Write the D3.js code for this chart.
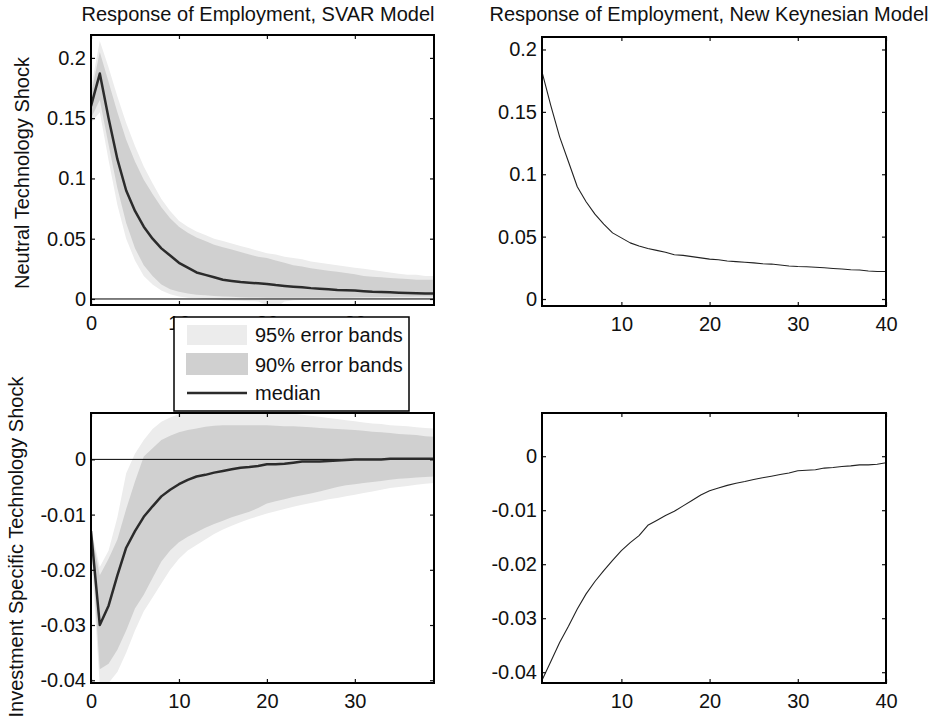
<!DOCTYPE html>
<html lang="en">
<head>
<meta charset="utf-8">
<title>Response of Employment: SVAR vs New Keynesian</title>
<style>
  body { margin: 0; background: #fff; }
  svg text { font-family: "Liberation Sans", Arial, Helvetica, sans-serif; fill: #111; }
  .tick line { stroke: #111; stroke-width: 1.2px; }
  .domain { display: none; }
</style>
</head>
<body>
<svg width="933" height="722"></svg>
<script src="https://cdn.jsdelivr.net/npm/d3@7"></script>
<script>

// ---- data ----
var horizonSVAR = d3.range(0, 40);   // periods 0..39
var horizonNK = d3.range(1, 41);     // periods 1..40

var neutralMedian = [0.160, 0.187, 0.150, 0.116, 0.090, 0.073, 0.060, 0.050, 0.042, 0.036,
  0.030, 0.026, 0.022, 0.020, 0.018, 0.016, 0.015, 0.014, 0.0135, 0.013,
  0.0125, 0.0115, 0.0108, 0.0102, 0.0097, 0.009, 0.0085, 0.008, 0.0075, 0.0072,
  0.007, 0.0065, 0.006, 0.0057, 0.0055, 0.0052, 0.005, 0.0047, 0.0045, 0.0045];
var neutralHi90 = [0.170, 0.205, 0.180, 0.155, 0.132, 0.114, 0.099, 0.087, 0.076, 0.067,
  0.060, 0.055, 0.051, 0.048, 0.045, 0.043, 0.041, 0.039, 0.037, 0.035,
  0.034, 0.032, 0.030, 0.028, 0.027, 0.0255, 0.0245, 0.0235, 0.0225, 0.0215,
  0.0205, 0.019, 0.0185, 0.018, 0.0175, 0.017, 0.0165, 0.016, 0.016, 0.016];
var neutralLo90 = [0.150, 0.165, 0.128, 0.092, 0.063, 0.042, 0.028, 0.019, 0.012, 0.008,
  0.006, 0.0045, 0.0035, 0.003, 0.0025, 0.002, 0.0018, 0.0015, 0.0013, 0.0012,
  0.001, 0.001, 0.001, 0.001, 0.001, 0.001, 0.001, 0.001, 0.001, 0.001,
  0.0012, 0.0014, 0.0015, 0.0016, 0.0017, 0.0018, 0.0019, 0.002, 0.002, 0.002];
var neutralHi95 = [0.175, 0.214, 0.192, 0.168, 0.146, 0.127, 0.110, 0.096, 0.083, 0.073,
  0.065, 0.060, 0.056, 0.053, 0.050, 0.048, 0.046, 0.044, 0.042, 0.040,
  0.038, 0.037, 0.035, 0.034, 0.033, 0.031, 0.030, 0.029, 0.028, 0.027,
  0.026, 0.025, 0.024, 0.023, 0.022, 0.021, 0.020, 0.020, 0.019, 0.019];
var neutralLo95 = [0.146, 0.155, 0.115, 0.078, 0.050, 0.032, 0.019, 0.012, 0.007, 0.004,
  0.002, 0.001, 0.0005, 0.0, -0.0005, -0.001, -0.0012, -0.0015, -0.0018, -0.002,
  -0.005, -0.0075, -0.002, -0.001, -0.0008, -0.0006, -0.0005, -0.0004, -0.0003, -0.0002,
  -0.0001, 0, 0, 0, 0, 0, 0, 0, 0, 0];

var investMedian = [-0.013, -0.030, -0.0265, -0.021, -0.016, -0.013, -0.0104, -0.0085, -0.0067, -0.0055,
  -0.0045, -0.0037, -0.0031, -0.0028, -0.0024, -0.0021, -0.0018, -0.0015, -0.0014, -0.0012,
  -0.0009, -0.0009, -0.0008, -0.0006, -0.0004, -0.0004, -0.0004, -0.0003, -0.0002, -0.0001,
  0, 0, 0, 0, 0.0001, 0.0001, 0.0001, 0.0001, 0.0001, 0.0001];
var investHi90 = [-0.013, -0.021, -0.018, -0.0145, -0.009, -0.004, 0.0005, 0.002, 0.0035, 0.0043,
  0.0049, 0.0053, 0.0056, 0.0059, 0.0061, 0.0062, 0.0062, 0.0062, 0.0062, 0.0062,
  0.0062, 0.0061, 0.006, 0.006, 0.0059, 0.0058, 0.0057, 0.0056, 0.0055, 0.0054,
  0.0053, 0.0052, 0.005, 0.0049, 0.0048, 0.0046, 0.0045, 0.0044, 0.0042, 0.0041];
var investLo90 = [-0.014, -0.038, -0.037, -0.0345, -0.031, -0.027, -0.0245, -0.0215, -0.0185, -0.0165,
  -0.015, -0.014, -0.0132, -0.0124, -0.0117, -0.0111, -0.0105, -0.01, -0.0095, -0.0088,
  -0.008, -0.0076, -0.0072, -0.0068, -0.0065, -0.0062, -0.0058, -0.0054, -0.005, -0.0047,
  -0.0045, -0.0043, -0.0041, -0.0039, -0.0037, -0.0035, -0.0034, -0.0033, -0.0032, -0.0031];
var investHi95 = [-0.0125, -0.0195, -0.0165, -0.0105, -0.0025, 0.001, 0.0035, 0.0055, 0.0068, 0.0076,
  0.0082, 0.0085, 0.0088, 0.009, 0.009, 0.009, 0.009, 0.009, 0.009, 0.009,
  0.0088, 0.0087, 0.0085, 0.0083, 0.0081, 0.0079, 0.0077, 0.0075, 0.0073, 0.0071,
  0.0069, 0.0067, 0.0065, 0.0064, 0.0062, 0.0061, 0.006, 0.0058, 0.0057, 0.0056];
var investLo95 = [-0.0165, -0.041, -0.0405, -0.0385, -0.035, -0.031, -0.0275, -0.025, -0.0225, -0.020,
  -0.018, -0.0165, -0.0155, -0.0145, -0.0135, -0.0127, -0.012, -0.0114, -0.0108, -0.0103,
  -0.0098, -0.0094, -0.009, -0.0086, -0.0082, -0.0079, -0.0076, -0.0072, -0.007, -0.0067,
  -0.0064, -0.0061, -0.0058, -0.0055, -0.0052, -0.005, -0.0048, -0.0046, -0.0044, -0.0043];

var nkNeutral = [0.182, 0.155, 0.130, 0.110, 0.090, 0.078, 0.068, 0.060, 0.053, 0.049,
  0.045, 0.0425, 0.0405, 0.039, 0.0375, 0.0355, 0.035, 0.034, 0.033, 0.032,
  0.0315, 0.0305, 0.030, 0.0295, 0.029, 0.0283, 0.028, 0.0272, 0.0265, 0.026,
  0.0258, 0.0255, 0.025, 0.0245, 0.024, 0.0235, 0.0232, 0.0225, 0.022, 0.022];
var nkInvest = [-0.0415, -0.038, -0.0345, -0.0315, -0.0283, -0.0255, -0.0232, -0.0212, -0.0193, -0.0175,
  -0.016, -0.0147, -0.0128, -0.0119, -0.011, -0.0102, -0.0092, -0.0082, -0.0072, -0.0064,
  -0.0059, -0.0054, -0.005, -0.0047, -0.0043, -0.004, -0.0037, -0.0034, -0.0031, -0.0027,
  -0.0026, -0.0025, -0.0022, -0.0021, -0.0019, -0.0018, -0.0016, -0.0016, -0.0015, -0.0012];

var titles = ["Response of Employment, SVAR Model", "Response of Employment, New Keynesian Model"];
var rowLabels = ["Neutral Technology Shock", "Investment Specific Technology Shock"];
var legendLabels = ["95% error bands", "90% error bands", "median"];
var neutralTicks = [0, 0.05, 0.1, 0.15, 0.2];
var investTicks = [-0.04, -0.03, -0.02, -0.01, 0];
var svarXTicks = [0, 10, 20, 30];
var nkXTicks = [10, 20, 30, 40];

// ---- layout ----
var svg = d3.select("svg");
var FS = 20;
var c95 = "#ececec", c90 = "#d0d0d0", cMed = "#2b2b2b";

function rows(x, arrs) {
  return x.map(function(d, i) {
    var r = { x: d };
    for (var k in arrs) r[k] = arrs[k][i];
    return r;
  });
}

var panels = [
  { id: "p1", left: 91, right: 434, top: 35, bottom: 305, xDom: [0, 39], yDom: [-0.005, 0.219],
    xTicks: svarXTicks, yTicks: neutralTicks, zero: true,
    data: rows(horizonSVAR, { m: neutralMedian, lo90: neutralLo90, hi90: neutralHi90, lo95: neutralLo95, hi95: neutralHi95 }) },
  { id: "p2", left: 542, right: 886, top: 37, bottom: 306, xDom: [1, 40], yDom: [-0.0056, 0.21],
    xTicks: nkXTicks, yTicks: neutralTicks, zero: false,
    data: rows(horizonNK, { m: nkNeutral }) },
  { id: "p3", left: 91, right: 434, top: 413, bottom: 683, xDom: [0, 39], yDom: [-0.0405, 0.0084],
    xTicks: svarXTicks, yTicks: investTicks, zero: true,
    data: rows(horizonSVAR, { m: investMedian, lo90: investLo90, hi90: investHi90, lo95: investLo95, hi95: investHi95 }) },
  { id: "p4", left: 542, right: 886, top: 413, bottom: 683, xDom: [1, 40], yDom: [-0.042, 0.008],
    xTicks: nkXTicks, yTicks: investTicks, zero: false,
    data: rows(horizonNK, { m: nkInvest }) }
];

var defs = svg.append("defs");

panels.forEach(function(p) {
  var x = d3.scaleLinear().domain(p.xDom).range([p.left, p.right]);
  var y = d3.scaleLinear().domain(p.yDom).range([p.bottom, p.top]);
  var w = p.right - p.left, h = p.bottom - p.top;

  defs.append("clipPath").attr("id", "clip-" + p.id)
    .append("rect").attr("x", p.left).attr("y", p.top).attr("width", w).attr("height", h);

  var g = svg.append("g");
  var plot = g.append("g").attr("clip-path", "url(#clip-" + p.id + ")");

  var isSvar = p.data[0].hi95 !== undefined;
  if (isSvar) {
    plot.append("path").datum(p.data)
      .attr("fill", c95)
      .attr("d", d3.area().x(function(d) { return x(d.x); })
        .y0(function(d) { return y(d.lo95); }).y1(function(d) { return y(d.hi95); }));
    plot.append("path").datum(p.data)
      .attr("fill", c90)
      .attr("d", d3.area().x(function(d) { return x(d.x); })
        .y0(function(d) { return y(d.lo90); }).y1(function(d) { return y(d.hi90); }));
  }

  if (p.zero) {
    plot.append("line")
      .attr("x1", p.left).attr("x2", p.right)
      .attr("y1", y(0)).attr("y2", y(0))
      .attr("stroke", "#000").attr("stroke-width", 1);
  }

  plot.append("path").datum(p.data)
    .attr("fill", "none")
    .attr("stroke", isSvar ? cMed : "#222")
    .attr("stroke-width", isSvar ? 2.5 : 1.1)
    .attr("stroke-linejoin", "round")
    .attr("d", d3.line().x(function(d) { return x(d.x); }).y(function(d) { return y(d.m); }));

  // axes with inward ticks on all four sides (matlab box)
  var fmt = function(d) { return String(d); };
  g.append("g").attr("transform", "translate(" + p.left + ",0)")
    .call(d3.axisLeft(y).tickValues(p.yTicks).tickFormat(fmt).tickSizeInner(-4).tickSizeOuter(0).tickPadding(5))
    .selectAll("text").style("font-size", FS + "px");
  g.append("g").attr("transform", "translate(" + p.right + ",0)")
    .call(d3.axisRight(y).tickValues(p.yTicks).tickFormat("").tickSizeInner(-4).tickSizeOuter(0));
  g.append("g").attr("transform", "translate(0," + p.bottom + ")")
    .call(d3.axisBottom(x).tickValues(p.xTicks).tickFormat(fmt).tickSizeInner(-4).tickSizeOuter(0).tickPadding(11))
    .selectAll("text").style("font-size", FS + "px");
  g.append("g").attr("transform", "translate(0," + p.top + ")")
    .call(d3.axisTop(x).tickValues(p.xTicks).tickFormat("").tickSizeInner(-4).tickSizeOuter(0));

  g.append("rect")
    .attr("x", p.left).attr("y", p.top).attr("width", w).attr("height", h)
    .attr("fill", "none").attr("stroke", "#000").attr("stroke-width", 2);
});

// column titles
svg.selectAll("text.title").data(titles).enter().append("text")
  .attr("class", "title")
  .attr("x", function(d, i) { return i === 0 ? 258 : 709; })
  .attr("y", 21)
  .attr("text-anchor", "middle")
  .style("font-size", FS + "px")
  .text(function(d) { return d; });

// row labels
svg.selectAll("text.rowlab").data(rowLabels).enter().append("text")
  .attr("class", "rowlab")
  .attr("transform", function(d, i) {
    return i === 0 ? "translate(29,173) rotate(-90)" : "translate(23,547) rotate(-90)";
  })
  .attr("text-anchor", "middle")
  .style("font-size", FS + "px")
  .text(function(d) { return d; });

// legend (sits over the SVAR x tick labels, as in the original)
var leg = svg.append("g").attr("transform", "translate(174,317)");
leg.append("rect").attr("width", 235).attr("height", 94)
  .attr("fill", "#fff").attr("stroke", "#000").attr("stroke-width", 1.5);
leg.append("rect").attr("x", 13).attr("y", 8).attr("width", 60).attr("height", 20).attr("fill", c95);
leg.append("rect").attr("x", 12).attr("y", 36).attr("width", 62).attr("height", 22).attr("fill", c90);
leg.append("line").attr("x1", 13).attr("x2", 73).attr("y1", 76).attr("y2", 76)
  .attr("stroke", cMed).attr("stroke-width", 2.5);
leg.selectAll("text").data(legendLabels).enter().append("text")
  .attr("x", 81)
  .attr("y", function(d, i) { return [24.5, 54.5, 83][i]; })
  .style("font-size", FS + "px")
  .text(function(d) { return d; });

</script>
</body>
</html>
